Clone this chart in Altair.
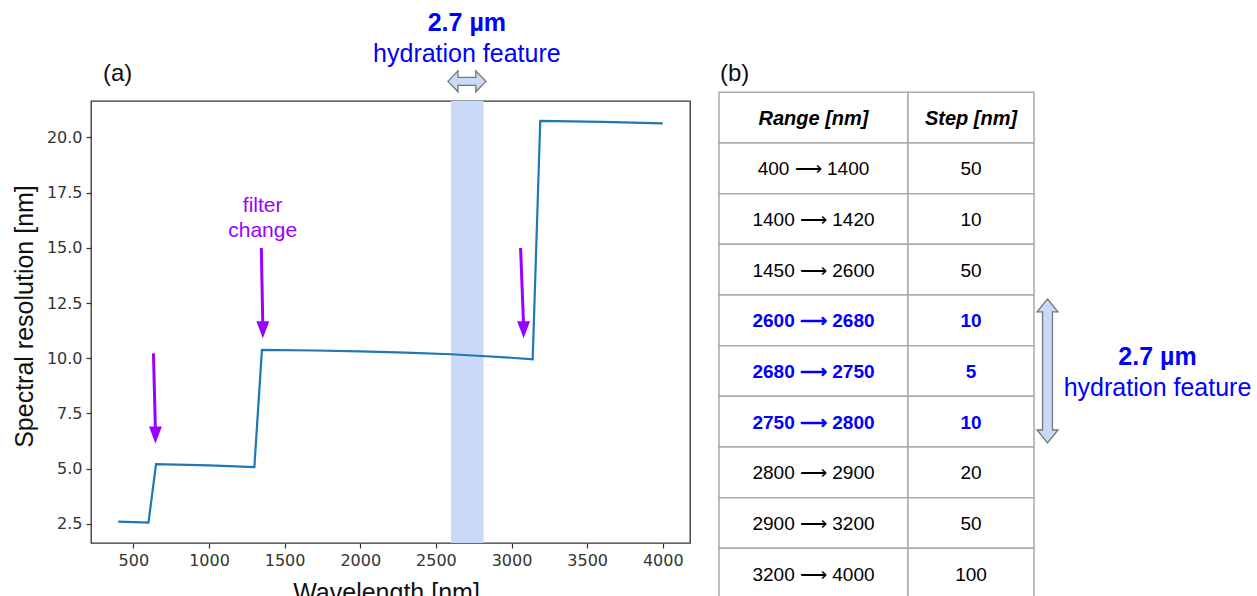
import altair as alt
import pandas as pd

# ---------------- panel (a): spectral resolution curve ----------------
wavelength = [400, 600, 650, 1000, 1300, 1350, 1700, 2000, 2300, 2600, 2800, 3000, 3140, 3190, 3600, 4000]
resolution = [2.60, 2.55, 5.20, 5.15, 5.07, 10.38, 10.35, 10.31, 10.25, 10.18, 10.10, 10.02, 9.95, 20.75, 20.70, 20.64]

band_start = [2600]
band_end = [2815]

arrow_x_top = [633, 1346, 3060]
arrow_y_top = [10.22, 14.99, 14.99]
arrow_x_tip = [646, 1356, 3080]
arrow_y_tip = [6.14, 10.90, 10.90]

x_ticks = [500, 1000, 1500, 2000, 2500, 3000, 3500, 4000]
y_ticks = [2.5, 5.0, 7.5, 10.0, 12.5, 15.0, 17.5, 20.0]

feature_title = "2.7 µm"
feature_sub = "hydration feature"
filter_words = ["filter", "change"]
filter_y = [16.62, 15.49]

# ---------------- panel (b): table ----------------
table_header = ["Range [nm]", "Step [nm]"]
table_ranges = ["400 ⟶ 1400", "1400 ⟶ 1420", "1450 ⟶ 2600", "2600 ⟶ 2680", "2680 ⟶ 2750",
                "2750 ⟶ 2800", "2800 ⟶ 2900", "2900 ⟶ 3200", "3200 ⟶ 4000"]
table_steps = ["50", "10", "50", "10", "5", "10", "20", "50", "100"]
table_highlight = [False, False, False, True, True, True, False, False, False]
col_edges = [0, 189, 315]

FONT = "Liberation Sans"
BLUE = "#0000ff"
PURPLE = "#9900ff"
LIGHT = "#c9daf8"

# ---------- plot scales ----------
XS = alt.Scale(domain=[220, 4180], nice=False, zero=False)
YS = alt.Scale(domain=[1.63, 21.65], nice=False, zero=False)
x_axis = alt.Axis(values=x_ticks, format="d", title="Wavelength [nm]", grid=False,
                  titleX=295, titleY=57, titleBaseline="alphabetic", titleAlign="center")
y_axis = alt.Axis(values=y_ticks, format=".1f", title="Spectral resolution [nm]", grid=False,
                  titleX=-59, titleY=215, titleBaseline="alphabetic", titleAlign="center", titleAngle=270)

line_df = pd.DataFrame({"wl": wavelength, "res": resolution})
band_df = pd.DataFrame({"wl": band_start, "wl2": band_end})
arrow_df = pd.DataFrame({"xt": arrow_x_top, "yt": arrow_y_top, "xp": arrow_x_tip, "yp": arrow_y_tip})
arrow_df["yb"] = arrow_df["yp"] + 0.55

band = alt.Chart(band_df).mark_rect(color=LIGHT).encode(
    x=alt.X("wl:Q", scale=XS, axis=x_axis), x2="wl2:Q")

line = alt.Chart(line_df).mark_line(color="#1f77b4", strokeWidth=2.2).encode(
    x=alt.X("wl:Q", scale=XS, axis=x_axis),
    y=alt.Y("res:Q", scale=YS, axis=y_axis))

shafts = alt.Chart(arrow_df).mark_rule(color=PURPLE, strokeWidth=3).encode(
    x=alt.X("xt:Q", scale=XS, axis=x_axis), x2="xp:Q",
    y=alt.Y("yt:Q", scale=YS, axis=y_axis), y2="yb:Q")

heads = alt.Chart(arrow_df).mark_point(
    shape="M0,0L-0.76,-2L0.76,-2Z", size=289, filled=True, color=PURPLE, opacity=1, strokeWidth=0
).encode(
    x=alt.X("xp:Q", scale=XS, axis=x_axis),
    y=alt.Y("yp:Q", scale=YS, axis=y_axis))

top_df = pd.DataFrame({"x": [2705], "y1": [24.83], "y2": [23.43], "ya": [22.54],
                       "t1": [feature_title], "t2": [feature_sub], "xa": [299], "yl": [22.56], "lab": ["(a)"]})

top_t1 = alt.Chart(top_df).mark_text(font=FONT, fontSize=25, fontWeight="bold", color=BLUE,
                                     baseline="alphabetic", align="center").encode(
    x=alt.X("x:Q", scale=XS, axis=x_axis), y=alt.Y("y1:Q", scale=YS, axis=y_axis), text="t1:N")
top_t2 = alt.Chart(top_df).mark_text(font=FONT, fontSize=25, color=BLUE,
                                     baseline="alphabetic", align="center").encode(
    x=alt.X("x:Q", scale=XS, axis=x_axis), y=alt.Y("y2:Q", scale=YS, axis=y_axis), text="t2:N")
h_arrow = alt.Chart(top_df).mark_point(
    shape="M-1,0L-0.47,-0.55L-0.47,-0.21L0.47,-0.21L0.47,-0.55L1,0L0.47,0.55L0.47,0.21L-0.47,0.21L-0.47,0.55Z",
    size=1444, filled=True, fill=LIGHT, stroke="#777777", strokeWidth=1.3, opacity=1
).encode(x=alt.X("x:Q", scale=XS, axis=x_axis), y=alt.Y("ya:Q", scale=YS, axis=y_axis))
label_a = alt.Chart(top_df).mark_text(font=FONT, fontSize=24, color="#111111",
                                      baseline="alphabetic", align="left").encode(
    x=alt.X("xa:Q", scale=XS, axis=x_axis), y=alt.Y("yl:Q", scale=YS, axis=y_axis), text="lab:N")

filt_df = pd.DataFrame({"x": [1355] * len(filter_words), "y": filter_y, "t": filter_words})
filt = alt.Chart(filt_df).mark_text(font=FONT, fontSize=21, color=PURPLE,
                                    baseline="alphabetic", align="center").encode(
    x=alt.X("x:Q", scale=XS, axis=x_axis), y=alt.Y("y:Q", scale=YS, axis=y_axis), text="t:N")

plot = alt.layer(band, line, shafts, heads, top_t1, top_t2, h_arrow, label_a, filt)

# ---------- table ----------
TX = alt.Scale(domain=[0, 315], range=[628, 943], nice=False, zero=False)
TY = alt.Scale(domain=[0, 10], range=[-8.7, 498], nice=False, zero=False)

cells = []
for c in range(2):
    cells.append({"x0": col_edges[c], "x1": col_edges[c + 1], "r0": 0, "r1": 1,
                  "t": table_header[c], "kind": "header"})
for i in range(len(table_ranges)):
    kind = "blue" if table_highlight[i] else "plain"
    for c, txt in enumerate([table_ranges[i], table_steps[i]]):
        cells.append({"x0": col_edges[c], "x1": col_edges[c + 1], "r0": i + 1, "r1": i + 2,
                      "t": txt, "kind": kind})
cell_df = pd.DataFrame(cells)
cell_df["xc"] = (cell_df["x0"] + cell_df["x1"]) / 2
cell_df["rc"] = (cell_df["r0"] + cell_df["r1"]) / 2

tx = alt.X("x0:Q", scale=TX, axis=None)
rects = alt.Chart(cell_df).mark_rect(fill="white", stroke="#a9a9a9", strokeWidth=1.5).encode(
    x=tx, x2="x1:Q", y=alt.Y("r0:Q", scale=TY, axis=None), y2="r1:Q")

def cell_text(kind, size=19, **kw):
    return alt.Chart(cell_df).transform_filter(alt.datum.kind == kind).mark_text(
        font=FONT, fontSize=size, baseline="middle", align="center", dy=1, **kw).encode(
        x=alt.X("xc:Q", scale=TX, axis=None), y=alt.Y("rc:Q", scale=TY, axis=None), text="t:N")

head_txt = cell_text("header", size=20, fontWeight="bold", fontStyle="italic", color="black")
plain_txt = cell_text("plain", color="black")
blue_txt = cell_text("blue", fontWeight="bold", color=BLUE)

side_df = pd.DataFrame({"xa": [328.5], "ya": [5.5], "xt": [438.5], "y1": [5.38], "y2": [5.99],
                        "t1": [feature_title], "t2": [feature_sub], "xb": [1], "yb": [-0.23], "lab": ["(b)"]})
v_arrow = alt.Chart(side_df).mark_point(
    shape="M0,-1L0.146,-0.82L0.069,-0.82L0.069,0.82L0.146,0.82L0,1L-0.146,0.82L-0.069,0.82L-0.069,-0.82L-0.146,-0.82Z",
    size=20736, filled=True, fill=LIGHT, stroke="#777777", strokeWidth=1.3, opacity=1
).encode(x=alt.X("xa:Q", scale=TX, axis=None), y=alt.Y("ya:Q", scale=TY, axis=None))
side_t1 = alt.Chart(side_df).mark_text(font=FONT, fontSize=25, fontWeight="bold", color=BLUE,
                                       baseline="alphabetic", align="center").encode(
    x=alt.X("xt:Q", scale=TX, axis=None), y=alt.Y("y1:Q", scale=TY, axis=None), text="t1:N")
side_t2 = alt.Chart(side_df).mark_text(font=FONT, fontSize=25, color=BLUE,
                                       baseline="alphabetic", align="center").encode(
    x=alt.X("xt:Q", scale=TX, axis=None), y=alt.Y("y2:Q", scale=TY, axis=None), text="t2:N")
label_b = alt.Chart(side_df).mark_text(font=FONT, fontSize=24, color="#111111",
                                       baseline="alphabetic", align="left").encode(
    x=alt.X("xb:Q", scale=TX, axis=None), y=alt.Y("yb:Q", scale=TY, axis=None), text="lab:N")

table = alt.layer(rects, head_txt, plain_txt, blue_txt, v_arrow, side_t1, side_t2, label_b)

chart = alt.layer(plot, table).resolve_scale(x="independent", y="independent").properties(
    width=599, height=442,
    padding={"left": 91, "top": 101, "right": 567, "bottom": 53},
    autosize=alt.AutoSizeParams(type="none"),
    background="white",
).configure_view(stroke="#333333", strokeWidth=1.3).configure_axis(
    domain=False, ticks=True, tickSize=5, tickWidth=1.2, tickColor="#333333",
    labelFont="DejaVu Sans", labelFontSize=16, labelColor="#333333", labelPadding=4,
    titleFont=FONT, titleFontSize=25, titleFontWeight="normal", titleColor="#111111",
)

chart.save("out.html", embed_options={"renderer": "svg", "actions": False})
